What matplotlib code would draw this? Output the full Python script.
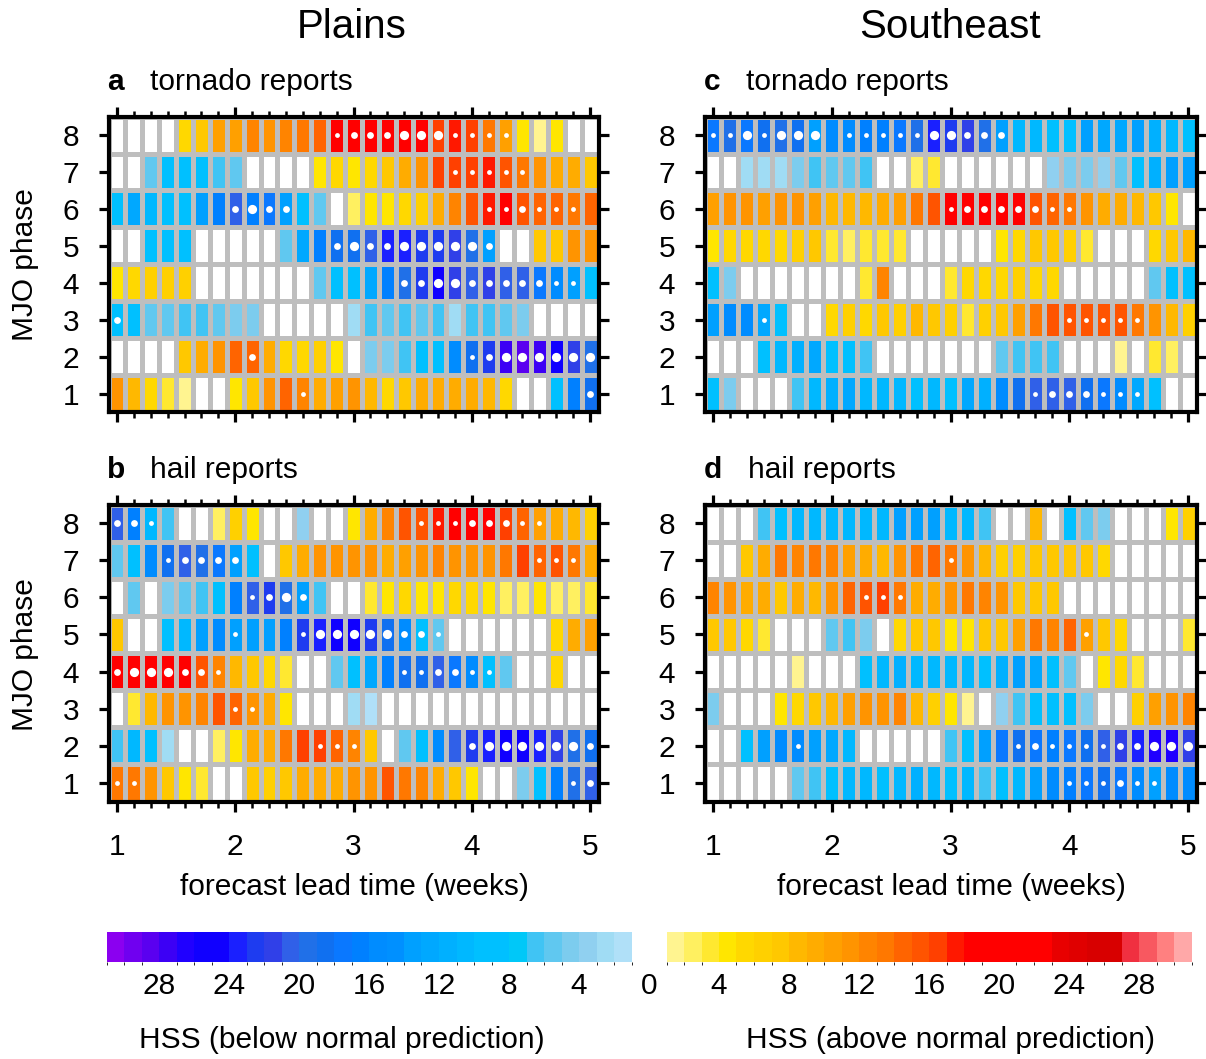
import numpy as np
import matplotlib
matplotlib.use('Agg')
import matplotlib.pyplot as plt
from matplotlib.colors import ListedColormap, BoundaryNorm
from matplotlib.cm import ScalarMappable

plt.rcParams['font.family'] = ['Liberation Sans', 'DejaVu Sans']

W, H = 1206, 1059

# colour boxes of the HSS scale
# below normal: from HSS 31 (left) down to 1
blue_colors = ['#8b00f0', '#7000f0', '#5a00f0', '#3c00f5', '#2000ff', '#1000ff',
               '#1000ff', '#1a20ff', '#1e3cf0', '#3040e8', '#3060e8', '#2070e8',
               '#1070f0', '#0a78ff', '#0080ff', '#008cff', '#0090ff', '#00a0ff',
               '#00a8ff', '#00b0ff', '#00b8ff', '#00c0ff', '#00c0ff', '#00c8f8',
               '#40c4f4', '#60c8f0', '#7cccee', '#90d0f0', '#a0dcf4', '#b0e0f8']
# above normal: from HSS 1 up to 31
warm_colors = ['#fff490', '#fff060', '#ffe830', '#ffe600', '#ffd800', '#ffd000',
               '#ffc800', '#ffb800', '#ffac00', '#ffa000', '#ff9400', '#ff8400',
               '#ff7800', '#ff6400', '#ff5400', '#ff4000', '#ff1800', '#ff0000',
               '#ff0000', '#ff0000', '#ff0000', '#ff0000', '#e80000', '#e00000',
               '#d80000', '#d80000', '#f03040', '#f85860', '#ff8080', '#ffa8a8']

lead_days = np.arange(7, 36)   # lead time in days (week 1 .. week 5)
phases = np.arange(1, 9)

# HSS read per cell (negative = below normal prediction, 0 = white)
# rows go from MJO phase 8 (top) down to phase 1
plains_tornado = [
    [0, 0, 0, 0, 5, 7, 10, 10, 12, 11, 12, 13, 14, 18, 19, 18, 19, 19, 19, 16, 17, 16, 13, 10, 4, 1, 4, 0, 0],
    [0, 0, -5, -8, -8, -8, -6, -5, 0, 0, 0, 0, 4, 5, 4, 5, 7, 9, 11, 16, 16, 16, 17, 15, 13, 11, 9, 9, 7],
    [-8, -12, -10, -9, -9, -13, -16, -20, -16, -17, -13, -8, -5, 0, 2, 4, 4, 5, 6, 9, 12, 15, 17, 18, 15, 14, 14, 13, 14],
    [0, 0, -8, -8, -8, 0, 0, 0, 0, 0, -5, -12, -16, -18, -18, -20, -23, -23, -22, -22, -21, -19, -13, 0, 0, 7, 7, 11, 11],
    [4, 5, 6, 6, 6, 0, 0, 0, 0, 0, 0, 0, -5, -8, -8, -12, -16, -19, -22, -24, -21, -20, -21, -20, -20, -17, -15, -13, -8],
    [-9, -8, -5, -5, -6, -6, -5, -4, -4, 0, 0, 0, 0, 0, -2, -6, -5, -6, -5, -6, -2, -6, -6, -5, -4, 0, 0, 0, 0],
    [0, 0, 0, 0, 7, 9, 11, 14, 14, 9, 5, 5, 6, 4, 0, -4, -4, -6, -8, -9, -15, -18, -22, -27, -28, -27, -24, -21, -19],
    [11, 8, 5, 3, 1, 0, 0, 4, 7, 11, 14, 12, 9, 10, 11, 8, 5, 7, 9, 9, 9, 9, 8, 5, 0, 0, -8, -16, -18],
]
plains_hail = [
    [-20, -16, -10, -6, 0, 0, 2, 6, 4, 0, 0, -3, 0, 0, 4, 9, 12, 15, 15, 17, 18, 18, 18, 16, 14, 10, 9, 8, 6],
    [-5, -8, -15, -18, -20, -19, -17, -13, -8, 0, 7, 9, 11, 11, 11, 11, 9, 10, 11, 12, 11, 11, 11, 13, 16, 14, 15, 13, 9],
    [0, -5, 0, -4, -5, -6, -8, -16, -20, -22, -19, -13, -6, 0, 0, 3, 4, 5, 4, 4, 5, 5, 4, 2, 2, 4, 2, 2, 3],
    [7, 0, 0, -8, -10, -13, -15, -13, -13, -13, -16, -22, -23, -25, -25, -22, -18, -15, -8, -5, 0, 0, 0, 0, 0, 0, 5, 9, 10],
    [18, 19, 19, 19, 18, 15, 12, 8, 7, 5, 3, 0, 0, -5, -8, -12, -16, -18, -18, -20, -17, -15, -8, -5, 0, 0, 5, 0, 0],
    [0, 3, 8, 11, 11, 12, 15, 14, 11, 9, 4, 0, 0, 0, -2, -1, 0, 0, 0, 0, 0, 0, 0, 0, 0, 0, 0, 0, 0],
    [-6, -10, -8, -2, 0, 0, 2, 4, 9, 9, 13, 16, 16, 14, 12, 7, 0, -5, -8, -15, -20, -22, -23, -25, -25, -23, -21, -19, -18],
    [13, 13, 11, 7, 4, 3, 0, 0, 7, 6, 7, 9, 9, 9, 11, 11, 15, 13, 12, 9, 7, 4, 0, 0, -4, -8, -16, -19, -20],
]
se_tornado = [
    [-17, -19, -17, -18, -19, -18, -13, -15, -15, -16, -16, -17, -19, -23, -22, -21, -19, -13, -10, -10, -9, -8, -13, -12, -12, -13, -11, -10, -9],
    [0, 0, -2, -2, -2, -4, -6, -5, -5, -6, 0, 0, 2, 3, 0, 0, 0, 0, 0, 0, -3, -4, -4, -3, -5, -8, -11, -13, -13],
    [10, 11, 11, 10, 11, 11, 10, 8, 8, 8, 9, 10, 13, 15, 18, 19, 19, 19, 19, 15, 14, 13, 11, 9, 9, 8, 7, 4, 0],
    [4, 5, 5, 5, 5, 6, 7, 3, 2, 3, 3, 3, 0, 0, 0, 0, 0, 4, 5, 7, 7, 6, 3, 0, 0, 0, 5, 7, 8],
    [-8, -4, 0, 0, 0, 0, 0, 0, 0, 3, 12, 0, 0, 0, 3, 5, 5, 5, 6, 5, 5, 0, 0, 0, 0, 0, -5, -8, -9],
    [-13, -15, -15, -12, -8, 0, 0, 5, 6, 5, 7, 6, 8, 7, 6, 3, 6, 7, 10, 13, 15, 15, 15, 15, 15, 13, 11, 8, 6],
    [0, 0, 0, -8, -10, -11, -12, -9, -9, -6, 0, 0, 0, 0, 0, 0, 0, -5, -6, -6, -6, 0, 0, 0, 1, 0, 3, 2, 0],
    [-8, -4, 0, 0, 0, -6, -10, -11, -12, -10, -10, -10, -9, -10, -9, -12, -11, -15, -18, -20, -20, -20, -18, -17, -15, -12, -8, 0, 0],
]
se_hail = [
    [0, 0, 0, -6, -8, -10, -10, -10, -10, -10, -10, -13, -13, -13, -10, -10, -6, 0, 0, 8, 0, -8, -5, -4, 0, 0, 0, 4, 6],
    [0, 0, 7, 9, 13, 12, 13, 12, 10, 9, 8, 11, 13, 14, 13, 11, 8, 6, 6, 7, 7, 7, 7, 5, 0, 0, 0, 0, 0],
    [12, 11, 9, 9, 7, 9, 8, 11, 14, 15, 16, 13, 9, 9, 11, 13, 12, 11, 7, 7, 7, 0, 0, 0, 0, 0, 0, 0, 0],
    [7, 7, 5, 3, 0, 0, 0, -5, -6, -4, 0, 5, 7, 7, 4, 4, 7, 7, 10, 13, 12, 14, 10, 7, 5, 0, 0, 0, 3],
    [0, 0, 0, 0, 0, 1, 0, 0, 0, -8, -10, -11, -10, -10, -10, -10, -9, -11, -13, -12, -9, -5, 0, 4, 5, 3, 0, 0, 0],
    [-4, 0, 0, 0, 4, 5, 7, 8, 10, 11, 11, 12, 8, 6, 4, 1, 0, -3, -6, -8, -8, -8, -4, 0, 0, 6, 10, 11, 12],
    [0, 0, -8, -13, -15, -15, -13, -12, -10, 0, 0, 0, 0, 0, -6, -8, -13, -17, -18, -17, -16, -17, -18, -20, -21, -23, -26, -26, -21],
    [0, 0, 0, 0, 0, -5, -6, -9, -10, -10, -9, -10, -11, -10, -9, -10, -6, -8, -10, -13, -15, -16, -17, -18, -17, -15, -13, -15, -15],
]

# white significance dots: 0 none, 1 small, 2 medium, 3 large (same row order)
plains_tornado_dots = ["00000000000001222333111100000",
                       "00000000000000000000111110000",
                       "00000002322000000000001121110",
                       "00000000000002322333332000000",
                       "00000000000000000223322222110",
                       "20000000000000000000000000000",
                       "00000000200000000000012333333",
                       "00000000000100000000000000002"]
plains_hail_dots = ["22100000000000000011122211000",
                    "00012222000000000000000001110",
                    "00000000123200000000000000000",
                    "00000001000133333221000000000",
                    "23332210000000000112211000000",
                    "00000001100000000000000000000",
                    "00000000000011100000023333332",
                    "11000000000000000000000000012"]
se_tornado_dots = ["11313330111113322200000000000",
                   "00000000000000000000000000000",
                   "00000000000000122222110000000",
                   "00000000000000000000000000000",
                   "00000000000000000000000000000",
                   "00010000000000000000011111000",
                   "00000000000000000000000000000",
                   "00000000000000000001222111000"]
se_hail_dots = ["00000000000000000000000000000",
                "00000000000000100000000000000",
                "00000000011100000000000000000",
                "00000000000000000000001000000",
                "00000000000000000000000000000",
                "00000000000000000000000000000",
                "00000100000000000012111122333",
                "00000000000000000000011121100"]

cb_ticks = [-28, -24, -20, -16, -12, -8, -4, 0, 4, 8, 12, 16, 20, 24, 28]

cmap = ListedColormap(blue_colors + ['white', 'white'] + warm_colors)
norm = BoundaryNorm(np.arange(-31, 32), cmap.N)
dot_size = {1: 12, 2: 24, 3: 44}

fig = plt.figure(figsize=(W / 100, H / 100), dpi=100)


def px_axes(l, t, r, b):
    return fig.add_axes([l / W, 1 - b / H, (r - l) / W, (b - t) / H])


def panel(box, levels, dots, xlabels):
    ax = px_axes(*box)
    lev = np.array(levels)[::-1]
    hss = np.sign(lev) * (np.abs(lev) + 0.5)
    xe = (np.arange(len(lead_days) + 1) + lead_days[0] - 0.5) / 7.0
    ye = np.arange(len(phases) + 1) + 0.5
    ax.pcolormesh(xe, ye, hss, cmap=cmap, norm=norm,
                  edgecolors='#bebebe', linewidth=2.2)
    for i, row in enumerate(dots[::-1]):
        for j, c in enumerate(row):
            if c != '0':
                ax.scatter(lead_days[j] / 7.0, phases[i], s=dot_size[int(c)],
                           color='white', linewidths=0, zorder=3)
    ax.set_xlim(xe[0], xe[-1])
    ax.set_ylim(ye[0], ye[-1])
    ax.set_xticks([1, 2, 3, 4, 5])
    ax.set_xticks(lead_days / 7.0, minor=True)
    ax.set_yticks(phases)
    ax.yaxis.set_minor_locator(matplotlib.ticker.NullLocator())
    ax.tick_params(which='major', direction='out', length=7, width=2.3,
                   top=True, right=True, labelsize=21.5)
    ax.tick_params(axis='x', which='minor', direction='out', length=4,
                   width=1.8, top=True, bottom=True)
    ax.tick_params(axis='y', pad=14)
    ax.tick_params(axis='x', pad=16)
    if not xlabels:
        ax.set_xticklabels([])
    for s in ax.spines.values():
        s.set_linewidth(3)
    return ax


panel((108.5, 116.5, 598.5, 412.5), plains_tornado, plains_tornado_dots, False)
panel((108.5, 504.5, 598.5, 801.5), plains_hail, plains_hail_dots, True)
panel((704.5, 116.5, 1196.5, 412.5), se_tornado, se_tornado_dots, False)
panel((704.5, 504.5, 1196.5, 801.5), se_hail, se_hail_dots, True)

fs = 21.5
fig.text(352 / W, 1 - 27 / H, 'Plains', fontsize=29, ha='center', va='center')
fig.text(950 / W, 1 - 27 / H, 'Southeast', fontsize=29, ha='center', va='center')
for x0, x1, y, letter, name in [(107, 150, 82, 'a', 'tornado reports'),
                                (107, 150, 470, 'b', 'hail reports'),
                                (704, 746, 82, 'c', 'tornado reports'),
                                (704, 748, 470, 'd', 'hail reports')]:
    fig.text(x0 / W, 1 - y / H, letter, fontsize=fs, fontweight='bold',
             ha='left', va='center')
    fig.text(x1 / W, 1 - y / H, name, fontsize=fs, ha='left', va='center')
for y in (265, 655):
    fig.text(25 / W, 1 - y / H, 'MJO phase', fontsize=fs, rotation=90,
             ha='center', va='center')
for x in (354, 951):
    fig.text(x / W, 1 - 887 / H, 'forecast lead time (weeks)', fontsize=fs,
             ha='center', va='center')

# colour scale
cax = px_axes(106.5, 932, 1191.5, 962)
cb = fig.colorbar(ScalarMappable(norm=norm, cmap=cmap), cax=cax,
                  orientation='horizontal')
cb.set_ticks(cb_ticks)
cb.set_ticklabels([str(abs(t)) for t in cb_ticks])
cb.outline.set_visible(False)
cax.tick_params(length=0, labelsize=fs, pad=7)
fig.text(342 / W, 1 - 1040 / H, 'HSS (below normal prediction)', fontsize=fs,
         ha='center', va='center')
fig.text(950 / W, 1 - 1040 / H, 'HSS (above normal prediction)', fontsize=fs,
         ha='center', va='center')

fig.savefig('out.png', dpi=100)
